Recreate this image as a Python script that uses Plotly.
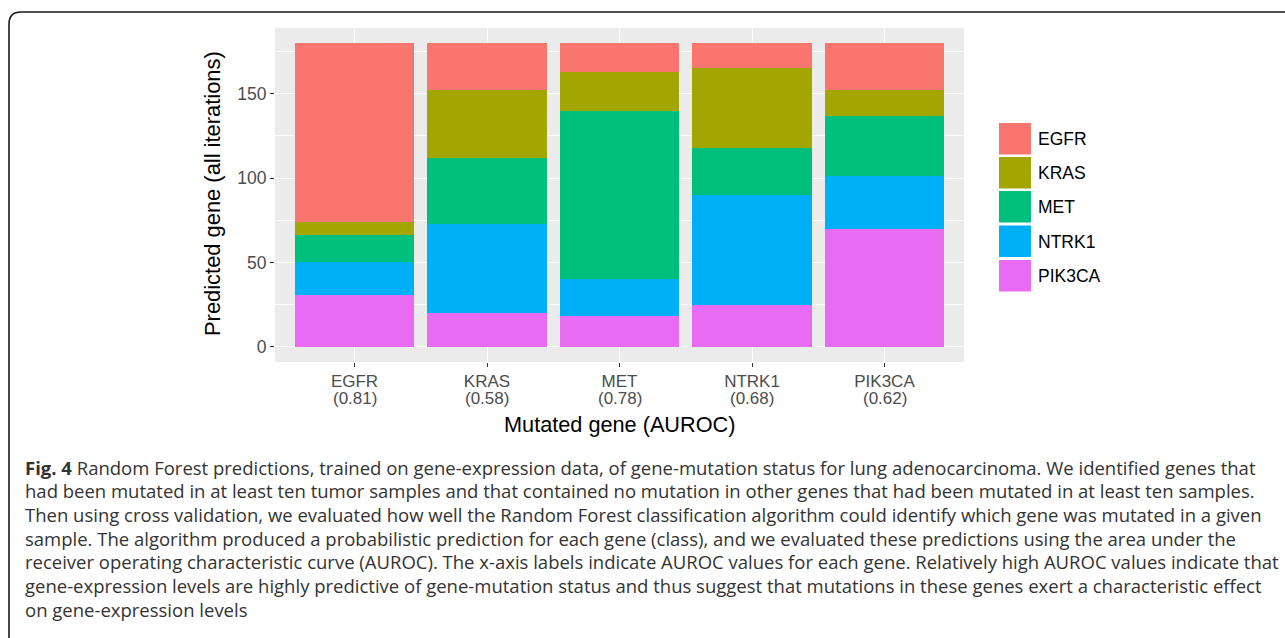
import plotly.graph_objects as go

# ---- data ----
mutated_genes = ["EGFR", "KRAS", "MET", "NTRK1", "PIK3CA"]
auroc_labels = ["(0.81)", "(0.58)", "(0.78)", "(0.68)", "(0.62)"]
predicted_genes = ["EGFR", "KRAS", "MET", "NTRK1", "PIK3CA"]

pik3ca_counts = [31, 20, 18, 25, 70]
ntrk1_counts = [19, 53, 22, 65, 31]
met_counts = [16, 39, 100, 28, 36]
kras_counts = [8, 40, 23, 47, 15]
egfr_counts = [106, 28, 17, 15, 28]

y_tick_values = [0, 50, 100, 150]

colors = {
    "EGFR": "#F8766D",
    "KRAS": "#A3A500",
    "MET": "#00BF7D",
    "NTRK1": "#00B0F6",
    "PIK3CA": "#E76BF3",
}

caption_lines = [
    "<b>Fig. 4</b> Random Forest predictions, trained on gene-expression data, of gene-mutation status for lung adenocarcinoma. We identified genes that",
    "had been mutated in at least ten tumor samples and that contained no mutation in other genes that had been mutated in at least ten samples.",
    "Then using cross validation, we evaluated how well the Random Forest classification algorithm could identify which gene was mutated in a given",
    "sample. The algorithm produced a probabilistic prediction for each gene (class), and we evaluated these predictions using the area under the",
    "receiver operating characteristic curve (AUROC). The x-axis labels indicate AUROC values for each gene. Relatively high AUROC values indicate that",
    "gene-expression levels are highly predictive of gene-mutation status and thus suggest that mutations in these genes exert a characteristic effect",
    "on gene-expression levels",
]

# ---- layout geometry (pixels) ----
W, H = 1285, 638
PL, PR, PT, PB = 275, 964, 28, 362


def px(x):
    return (x - PL) / (PR - PL)


def py(y):
    return (PB - y) / (PB - PT)


series = [
    ("PIK3CA", pik3ca_counts),
    ("NTRK1", ntrk1_counts),
    ("MET", met_counts),
    ("KRAS", kras_counts),
    ("EGFR", egfr_counts),
]

fig = go.Figure()
for name, vals in series:
    fig.add_trace(go.Bar(
        x=mutated_genes, y=vals, name=name,
        marker=dict(color=colors[name], line=dict(width=0)),
        width=0.9, showlegend=False,
        hovertemplate="%{x}: %{y}<extra>" + name + "</extra>",
    ))

fig.update_layout(
    barmode="stack",
    width=W, height=H,
    margin=dict(l=PL, r=W - PR, t=PT, b=H - PB, pad=0),
    paper_bgcolor="white",
    plot_bgcolor="#EBEBEB",
    font=dict(family="Liberation Sans, Arial, sans-serif", color="#4D4D4D"),
)

fig.update_xaxes(
    type="category",
    range=[-0.6, 4.6],
    tickmode="array",
    tickvals=mutated_genes,
    ticktext=mutated_genes,
    tickfont=dict(size=17, color="#4D4D4D"),
    ticks="outside", ticklen=4, tickwidth=1.3, tickcolor="#333333",
    showgrid=True, gridcolor="white", gridwidth=1.4,
    zeroline=False, showline=False,
)
fig.update_yaxes(
    range=[-9, 189],
    tickmode="array",
    tickvals=y_tick_values,
    tickfont=dict(size=17.5, color="#4D4D4D"),
    ticks="outside", ticklen=4, tickwidth=1.3, tickcolor="#333333",
    showgrid=True, gridcolor="white", gridwidth=1.4,
    minor=dict(tickmode="array", tickvals=[25, 75, 125, 175],
               showgrid=True, gridcolor="white", gridwidth=0.7, ticks=""),
    zeroline=False, showline=False,
)

annotations = []
# second line of the x tick labels (AUROC values)
for g, a in zip(mutated_genes, auroc_labels):
    annotations.append(dict(
        text=a, x=g, y=py(398.5), xref="x", yref="paper",
        xanchor="center", yanchor="middle", showarrow=False,
        font=dict(size=17, color="#4D4D4D", family="Liberation Sans, Arial, sans-serif"),
    ))

# axis titles
annotations.append(dict(
    text="Mutated gene (AUROC)", x=0.5, y=py(424), xref="paper", yref="paper",
    xanchor="center", yanchor="middle", showarrow=False,
    font=dict(size=21.7, color="black", family="Liberation Sans, Arial, sans-serif"),
))
annotations.append(dict(
    text="Predicted gene (all iterations)", x=px(212), y=py(194), xref="paper", yref="paper",
    xanchor="center", yanchor="middle", showarrow=False, textangle=-90,
    font=dict(size=21.9, color="black", family="Liberation Sans, Arial, sans-serif"),
))

# legend (drawn manually to match ggplot key size)
shapes = []
key_tops = [123, 157, 191, 225.5, 260]
for name, top in zip(predicted_genes, key_tops):
    shapes.append(dict(
        type="rect", xref="paper", yref="paper",
        x0=px(999), x1=px(1031), y0=py(top + 31.5), y1=py(top),
        fillcolor=colors[name], line=dict(width=0), layer="above",
    ))
    annotations.append(dict(
        text=name, x=px(1036), y=py(top + 16), xref="paper", yref="paper",
        xanchor="left", yanchor="middle", showarrow=False,
        font=dict(size=17.5, color="black", family="Liberation Sans, Arial, sans-serif"),
    ))

# caption
line_y = [467, 490.7, 514.4, 538.1, 561.8, 585.5, 609.2]
for text, yy in zip(caption_lines, line_y):
    annotations.append(dict(
        text=text, x=px(23), y=py(yy), xref="paper", yref="paper",
        xanchor="left", yanchor="middle", showarrow=False, align="left",
        font=dict(size=18.5, color="#333333", family="Open Sans, Noto Sans, sans-serif"),
    ))

# frame with rounded top-left corner
r = 12
x_left, y_top = 9, 12
path = (f"M {px(x_left)},{py(H + 5)} L {px(x_left)},{py(y_top + r)} "
        f"Q {px(x_left)},{py(y_top)} {px(x_left + r)},{py(y_top)} "
        f"L {px(W + 5)},{py(y_top)}")
shapes.append(dict(type="path", xref="paper", yref="paper", path=path,
                   line=dict(color="#1a1a1a", width=1.6)))

fig.update_layout(annotations=annotations, shapes=shapes)

fig.write_html(
    "out.html",
    config={"displayModeBar": False},
    post_script="document.body.style.margin='0';document.body.style.overflow='hidden';",
)
